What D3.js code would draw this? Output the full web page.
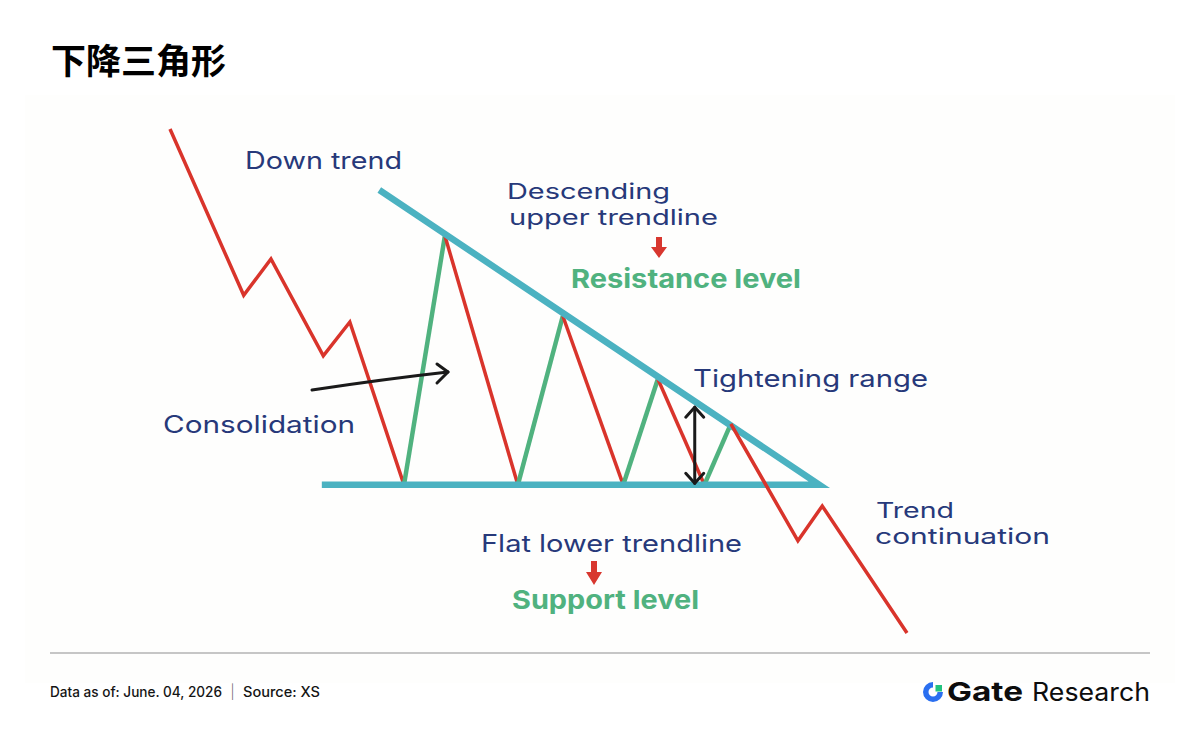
<!DOCTYPE html>
<html>
<head>
<meta charset="utf-8">
<script src="https://cdn.jsdelivr.net/npm/d3@7"></script>
<style>
  body { margin: 0; background: #ffffff; }
  svg { display: block; }
</style>
</head>
<body>
<div id="chart"></div>
<script>
// price path, x = time (0-100), y = price (0-100)
var downtrend = [[0, 100], [10, 67], [13.7, 74.2], [20.8, 55], [24.4, 61.7], [31.75, 29.4]];
var consolidation = [[31.75, 29.4], [37.3, 78.8], [47.2, 29.4], [53.3, 62.9], [61.5, 29.4],
                     [66.2, 50.4], [72.5, 29.4], [76.1, 41.5]];
var breakout = [[76.1, 41.5], [85.2, 18.3], [88.5, 25.2], [100, 0]];
var supportLevel = 29.4;
var supportStart = 20.6;
var resistanceStart = [28.4, 87.9];
var apexX = 88.1;
var rangeMarker = [71.2, 44.8];

var W = 1201, H = 731;
var RED = '#d9342b', GREEN = '#50b27f', TEAL = '#4bb2c1', NAVY = '#27397a';

var svg = d3.select('#chart').append('svg')
	.attr('width', W)
	.attr('height', H);

svg.append('rect')
	.attr('x', 25).attr('y', 95)
	.attr('width', 1150).attr('height', 588)
	.attr('fill', '#fefefd');

var x = d3.scaleLinear().domain([0, 100]).range([170, 907]);
var y = d3.scaleLinear().domain([0, 100]).range([633, 129]);

var line = d3.line()
	.x(function(d) { return x(d[0]); })
	.y(function(d) { return y(d[1]); });

var plot = svg.append('g');

// left down trend
plot.append('path')
	.attr('d', line(downtrend))
	.attr('fill', 'none')
	.attr('stroke', RED)
	.attr('stroke-width', 3.5);

// swings inside the triangle, up legs green, down legs red
var legs = d3.pairs(consolidation);
plot.selectAll('.leg')
	.data(legs)
	.enter()
	.append('path')
	.attr('class', 'leg')
	.attr('d', function(d) { return line(d); })
	.attr('fill', 'none')
	.attr('stroke', function(d) { return d[1][1] > d[0][1] ? GREEN : RED; })
	.attr('stroke-width', function(d) { return d[1][1] > d[0][1] ? 4.5 : 3.5; });

// triangle: resistance down to apex, then flat support back
plot.append('path')
	.attr('d', line([resistanceStart, [apexX, supportLevel], [supportStart, supportLevel]]))
	.attr('fill', 'none')
	.attr('stroke', TEAL)
	.attr('stroke-width', 6.5)
	.attr('stroke-linejoin', 'miter')
	.attr('stroke-miterlimit', 6);

// breakout continuation
plot.append('path')
	.attr('d', line(breakout))
	.attr('fill', 'none')
	.attr('stroke', RED)
	.attr('stroke-width', 3.5);

// tightening range double arrow
var mx = x(rangeMarker[0]), yTop = y(rangeMarker[1]), yBot = y(supportLevel) - 1.5;
var arrows = svg.append('g')
	.attr('fill', 'none')
	.attr('stroke', '#1a1a1a')
	.attr('stroke-width', 3)
	.attr('stroke-linecap', 'round')
	.attr('stroke-linejoin', 'round');
arrows.append('path').attr('d', 'M' + mx + ',' + yTop + 'V' + yBot);
arrows.append('path').attr('d', 'M' + (mx - 9) + ',' + (yTop + 10) + 'L' + mx + ',' + yTop + 'L' + (mx + 9) + ',' + (yTop + 10));
arrows.append('path').attr('d', 'M' + (mx - 9) + ',' + (yBot - 10) + 'L' + mx + ',' + yBot + 'L' + (mx + 9) + ',' + (yBot - 10));

// consolidation pointer
arrows.append('path').attr('d', 'M312,390 Q385,379 448,372');
arrows.append('path').attr('d', 'M437,364 L448,372 L437,383');

// small red down arrows
function downArrow(cx, y0, y1, y2) {
	svg.append('path')
		.attr('d', 'M' + (cx - 3) + ',' + y0 + 'H' + (cx + 3) + 'V' + y1 + 'H' + (cx + 8) +
		           'L' + cx + ',' + y2 + 'L' + (cx - 8) + ',' + y1 + 'H' + (cx - 3) + 'Z')
		.attr('fill', '#d8372f');
}
downArrow(659, 237, 247, 258);
downArrow(594, 561, 572, 585);

function label(txt, px, py, len, opts) {
	opts = opts || {};
	return svg.append('text')
		.text(txt)
		.attr('x', px)
		.attr('y', py)
		.attr('font-family', opts.family || 'Inter, "Noto Sans", sans-serif')
		.attr('font-size', opts.size || 24)
		.attr('font-weight', opts.weight || 400)
		.attr('fill', opts.fill || NAVY)
		.attr('textLength', len)
		.attr('lengthAdjust', 'spacingAndGlyphs');
}

label('Down trend', 245, 169, 157);
label('Descending', 507, 199, 163, {size: 21.4});
label('upper trendline', 509, 225, 209, {size: 21.4});
label('Resistance level', 571, 288, 230, {weight: 700, fill: GREEN, size: 26});
label('Tightening range', 693, 387, 235);
label('Consolidation', 163, 433, 192);
label('Flat lower trendline', 481, 552, 261);
label('Support level', 512, 609, 187, {weight: 700, fill: GREEN, size: 26});
label('Trend', 876, 518, 78, {size: 21.4});
label('continuation', 875, 544, 175, {size: 21.4});

// title
svg.append('text')
	.text('下降三角形')
	.attr('x', 51)
	.attr('y', 74)
	.attr('font-family', '"Noto Sans CJK SC", sans-serif')
	.attr('font-size', 35)
	.attr('font-weight', 700)
	.attr('fill', '#000');

// footer
svg.append('line')
	.attr('x1', 50).attr('x2', 1150)
	.attr('y1', 653).attr('y2', 653)
	.attr('stroke', '#b3b3b3')
	.attr('stroke-width', 1.5);

label('Data as of: June. 04, 2026', 50, 697, 172, {size: 14, fill: '#151515', weight: 500});
label('|', 231, 697, 3, {size: 14, fill: '#555'});
label('Source:  XS', 243, 697, 77, {size: 14, fill: '#151515', weight: 500});

// logo
var logo = svg.append('g').attr('transform', 'translate(933,692)');
logo.append('path')
	.attr('d', d3.arc()({innerRadius: 4.5, outerRadius: 10, startAngle: Math.PI / 2, endAngle: 2 * Math.PI}))
	.attr('fill', '#2a6ff0');
logo.append('rect')
	.attr('x', 2.5).attr('y', -7)
	.attr('width', 6.5).attr('height', 6.5)
	.attr('fill', '#22c37e');
label('Gate', 947, 701, 76, {size: 26, weight: 700, fill: '#0d0d0d'});
label('Research', 1032, 701, 118, {size: 25, weight: 400, fill: '#0d0d0d'});
</script>
</body>
</html>
